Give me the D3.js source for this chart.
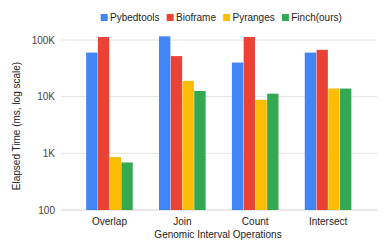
<!DOCTYPE html>
<html>
<head>
<meta charset="utf-8">
<script src="https://cdn.jsdelivr.net/npm/d3@7"></script>
<style>
  body { margin: 0; background: #fff; }
  text { font-family: Arial, "Liberation Sans", sans-serif; }
</style>
</head>
<body>
<svg id="chart" width="389" height="242"></svg>
<script>
// data
const operations = ["Overlap", "Join", "Count", "Intersect"];
const tools = ["Pybedtools", "Bioframe", "Pyranges", "Finch(ours)"];
const pybedtools = [60000, 116000, 40000, 60000];
const bioframe = [113000, 52000, 113000, 67000];
const pyranges = [860, 19000, 8800, 13900];
const finch = [690, 12600, 11300, 13900];
const yTicks = [100, 1000, 10000, 100000];
const yTickLabels = ["100", "1K", "10K", "100K"];

const colors = ["#4285f4", "#ea4335", "#fbbc04", "#34a853"];
const series = [pybedtools, bioframe, pyranges, finch];

const svg = d3.select("#chart");

// plot area
const plotLeft = 61, plotRight = 377;

const x0 = d3.scaleBand()
  .domain(operations)
  .range([73, 364.5])
  .paddingInner(0.355)
  .paddingOuter(0.1775);

const x1 = d3.scaleBand()
  .domain(tools)
  .range([0, x0.bandwidth()]);

const y = d3.scaleLog()
  .domain([100, 100000])
  .range([210, 40]);

// gridlines
svg.append("g")
  .selectAll("line")
  .data(yTicks)
  .enter()
  .append("line")
  .attr("x1", plotLeft)
  .attr("x2", plotRight)
  .attr("y1", d => y(d))
  .attr("y2", d => y(d))
  .attr("stroke", d => d === 100 ? "#d0d0d0" : "#e2e2e2")
  .attr("stroke-width", 1);

// y tick labels
svg.append("g")
  .selectAll("text")
  .data(yTicks)
  .enter()
  .append("text")
  .attr("x", 55)
  .attr("y", d => y(d) + 3.5)
  .attr("text-anchor", "end")
  .attr("font-size", 10)
  .attr("fill", "#444")
  .text((d, i) => yTickLabels[i]);

// bars
const groups = svg.append("g")
  .selectAll("g")
  .data(operations)
  .enter()
  .append("g")
  .attr("transform", d => `translate(${x0(d)},0)`);

groups.selectAll("rect")
  .data((op, i) => tools.map((t, j) => ({ tool: t, value: series[j][i], color: colors[j] })))
  .enter()
  .append("rect")
  .attr("x", d => x1(d.tool) + 0.2)
  .attr("width", x1.bandwidth() - 0.4)
  .attr("y", d => y(d.value))
  .attr("height", d => y(100) - y(d.value))
  .attr("fill", d => d.color);

// x category labels
svg.append("g")
  .selectAll("text")
  .data(operations)
  .enter()
  .append("text")
  .attr("x", d => x0(d) + x0.bandwidth() / 2)
  .attr("y", 224.5)
  .attr("text-anchor", "middle")
  .attr("font-size", 10)
  .attr("fill", "#222")
  .text(d => d);

// axis titles
svg.append("text")
  .attr("x", 218)
  .attr("y", 237.5)
  .attr("text-anchor", "middle")
  .attr("font-size", 10)
  .attr("fill", "#222")
  .text("Genomic Interval Operations");

svg.append("text")
  .attr("transform", "translate(20,126) rotate(-90)")
  .attr("text-anchor", "middle")
  .attr("font-size", 10)
  .attr("fill", "#222")
  .text("Elapsed Time (ms, log scale)");

// legend
const legend = svg.append("g");
let lx = 100.7;
tools.forEach((t, i) => {
  legend.append("rect")
    .attr("x", lx)
    .attr("y", 14)
    .attr("width", 7)
    .attr("height", 7)
    .attr("fill", colors[i]);
  const txt = legend.append("text")
    .attr("x", lx + 9.3)
    .attr("y", 21)
    .attr("font-size", 10)
    .attr("fill", "#222")
    .text(t);
  lx += 9.3 + txt.node().getComputedTextLength() + 7.2;
});
</script>
</body>
</html>
